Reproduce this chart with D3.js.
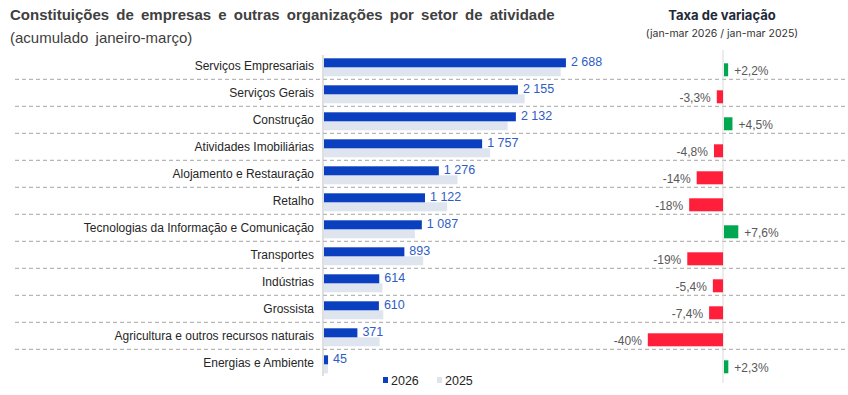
<!DOCTYPE html>
<html>
<head>
<meta charset="utf-8">
<script src="https://cdn.jsdelivr.net/npm/d3@7"></script>
<style>
  body { margin: 0; background: #fff; }
  text { font-family: "Liberation Sans", Arial, sans-serif; }
</style>
</head>
<body>
<div id="chart"></div>
<script>
// categories (top to bottom)
var sectors = ["Serviços Empresariais", "Serviços Gerais", "Construção", "Atividades Imobiliárias",
  "Alojamento e Restauração", "Retalho", "Tecnologias da Informação e Comunicação", "Transportes",
  "Indústrias", "Grossista", "Agricultura e outros recursos naturais", "Energias e Ambiente"];

// constitutions jan-mar
var val2026 = [2688, 2155, 2132, 1757, 1276, 1122, 1087, 893, 614, 610, 371, 45];
var val2025 = [2630, 2229, 2040, 1846, 1484, 1368, 1010, 1102, 649, 659, 618, 44];

// variation rate (%)
var rate = [2.2, -3.3, 4.5, -4.8, -14, -18, 7.6, -19, -5.4, -7.4, -40, 2.3];
var rateLabels = ["+2,2%", "-3,3%", "+4,5%", "-4,8%", "-14%", "-18%", "+7,6%", "-19%", "-5,4%", "-7,4%", "-40%", "+2,3%"];

var W = 848, H = 395;

var svg = d3.select("#chart").append("svg")
  .attr("width", W).attr("height", H);

var y = d3.scaleBand()
  .domain(sectors)
  .range([52.3, 376.3])
  .padding(0);

var x = d3.scaleLinear()
  .domain([0, 3000])
  .range([323, 593]);

var xr = d3.scaleLinear()
  .domain([-40, 10])
  .range([647.8, 741.8]);

var fmt = function(v) { return d3.format(",")(v).replace(/,/g, " "); };

// titles
svg.append("text")
  .attr("x", 10).attr("y", 20)
  .attr("font-size", 15).attr("font-weight", "bold")
  .attr("fill", "#404040")
  .attr("word-spacing", 3)
  .text("Constituições de empresas e outras organizações por setor de atividade");

svg.append("text")
  .attr("x", 10).attr("y", 43)
  .attr("font-size", 15)
  .attr("fill", "#404040")
  .attr("word-spacing", 3)
  .text("(acumulado janeiro-março)");

svg.append("text")
  .attr("x", 722).attr("y", 20)
  .attr("text-anchor", "middle")
  .attr("font-size", 13).attr("font-weight", "bold")
  .style("font-family", "Inter, sans-serif")
  .attr("fill", "#1f2a3a")
  .text("Taxa de variação");

svg.append("text")
  .attr("x", 722).attr("y", 37)
  .attr("text-anchor", "middle")
  .attr("font-size", 10.5)
  .style("font-family", "Inter, sans-serif")
  .attr("fill", "#333")
  .text("(jan-mar 2026 / jan-mar 2025)");

// dashed separators
svg.append("g").selectAll("line")
  .data(sectors.slice(1))
  .enter().append("line")
  .attr("x1", 15).attr("x2", 846)
  .attr("y1", function(d) { return y(d); })
  .attr("y2", function(d) { return y(d); })
  .attr("stroke", "#a6a6a6")
  .attr("stroke-width", 1)
  .attr("stroke-dasharray", "4,3");

// axis lines
svg.append("line")
  .attr("x1", x(0)).attr("x2", x(0))
  .attr("y1", 55).attr("y2", 376)
  .attr("stroke", "#bfbfbf");

svg.append("line")
  .attr("x1", xr(0)).attr("x2", xr(0))
  .attr("y1", 50).attr("y2", 383)
  .attr("stroke", "#d9d9d9");

// category labels
svg.append("g").selectAll("text")
  .data(sectors)
  .enter().append("text")
  .attr("x", 314)
  .attr("y", function(d) { return y(d) + 18; })
  .attr("text-anchor", "end")
  .attr("font-size", 12)
  .attr("fill", "#262626")
  .text(function(d) { return d; });

// 2025 bars
svg.append("g").selectAll("rect")
  .data(val2025)
  .enter().append("rect")
  .attr("x", x(0) + 1)
  .attr("y", function(d, i) { return y(sectors[i]) + 15; })
  .attr("width", function(d) { return x(d) - x(0); })
  .attr("height", 9)
  .attr("fill", "#dfe5ee");

// 2026 bars
svg.append("g").selectAll("rect")
  .data(val2026)
  .enter().append("rect")
  .attr("x", x(0) + 1)
  .attr("y", function(d, i) { return y(sectors[i]) + 6; })
  .attr("width", function(d) { return x(d) - x(0); })
  .attr("height", 9)
  .attr("fill", "#0a3fbf");

// value labels
svg.append("g").selectAll("text")
  .data(val2026)
  .enter().append("text")
  .attr("x", function(d) { return x(d) + 6; })
  .attr("y", function(d, i) { return y(sectors[i]) + 14; })
  .attr("font-size", 12.5)
  .attr("fill", "#2f5cc6")
  .text(function(d) { return fmt(d); });

// variation bars
svg.append("g").selectAll("rect")
  .data(rate)
  .enter().append("rect")
  .attr("x", function(d) { return d < 0 ? xr(d) : xr(0) + 1; })
  .attr("y", function(d, i) { return y(sectors[i]) + 11; })
  .attr("width", function(d) { return Math.abs(xr(d) - xr(0)); })
  .attr("height", 13)
  .attr("fill", function(d) { return d < 0 ? "#ff1f3a" : "#00a650"; });

svg.append("g").selectAll("text")
  .data(rate)
  .enter().append("text")
  .attr("x", function(d) { return d < 0 ? xr(d) - 6 : xr(d) + 7; })
  .attr("y", function(d, i) { return y(sectors[i]) + 22.5; })
  .attr("text-anchor", function(d) { return d < 0 ? "end" : "start"; })
  .attr("font-size", 12)
  .attr("fill", "#595959")
  .text(function(d, i) { return rateLabels[i]; });

// legend
var legend = svg.append("g");
var legItems = [{ k: "2026", c: "#0a3fbf", x: 383 }, { k: "2025", c: "#dfe5ee", x: 437 }];
legend.selectAll("rect")
  .data(legItems)
  .enter().append("rect")
  .attr("x", function(d) { return d.x; })
  .attr("y", 377)
  .attr("width", 5).attr("height", 6)
  .attr("fill", function(d) { return d.c; });
legend.selectAll("text")
  .data(legItems)
  .enter().append("text")
  .attr("x", function(d) { return d.x + 8; })
  .attr("y", 385)
  .attr("font-size", 12.5)
  .attr("fill", "#262626")
  .text(function(d) { return d.k; });
</script>
</body>
</html>
